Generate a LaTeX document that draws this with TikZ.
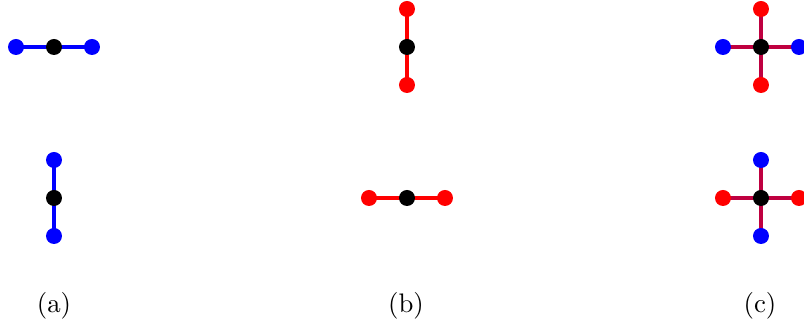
\documentclass[tikz,border=0pt]{standalone}
\usetikzlibrary{backgrounds}
\definecolor{mixc}{RGB}{191,0,64}
\tikzset{
  dot/.style={circle,fill=#1,inner sep=0pt,outer sep=0pt,minimum size=16*0.3731pt},
  bar/.style={line width=1.5pt,draw=#1,shorten <=-2pt,shorten >=-2pt},
  lbl/.style={inner sep=0pt}
}
\begin{document}
\begin{tikzpicture}[x=0.3731pt,y=-0.3731pt]
\useasboundingbox (0,0) rectangle (804,326);
% (a) top
\node[dot=black] (a1c) at (54,47) {};
\node[dot=blue] (a1l) at (16,47) {};
\node[dot=blue] (a1r) at (92,47) {};
% (a) bottom
\node[dot=black] (a2c) at (54,198) {};
\node[dot=blue] (a2t) at (54,160) {};
\node[dot=blue] (a2b) at (54,236) {};
% (b) top
\node[dot=black] (b1c) at (407,47) {};
\node[dot=red] (b1t) at (407,9) {};
\node[dot=red] (b1b) at (407,85) {};
% (b) bottom
\node[dot=black] (b2c) at (407,198) {};
\node[dot=red] (b2l) at (369,198) {};
\node[dot=red] (b2r) at (445,198) {};
% (c) top
\node[dot=black] (c1c) at (761,47) {};
\node[dot=red] (c1t) at (761,9) {};
\node[dot=red] (c1b) at (761,85) {};
\node[dot=blue] (c1l) at (723,47) {};
\node[dot=blue] (c1r) at (799,47) {};
% (c) bottom
\node[dot=black] (c2c) at (761,198) {};
\node[dot=blue] (c2t) at (761,160) {};
\node[dot=blue] (c2b) at (761,236) {};
\node[dot=red] (c2l) at (723,198) {};
\node[dot=red] (c2r) at (799,198) {};
\begin{scope}[on background layer]
\draw[bar=blue] (a1l) -- (a1c);
\draw[bar=blue] (a1c) -- (a1r);
\draw[bar=blue] (a2t) -- (a2c);
\draw[bar=blue] (a2c) -- (a2b);
\draw[bar=red] (b1t) -- (b1c);
\draw[bar=red] (b1c) -- (b1b);
\draw[bar=red] (b2l) -- (b2c);
\draw[bar=red] (b2c) -- (b2r);
\draw[bar=mixc] (c1t) -- (c1c);
\draw[bar=mixc] (c1c) -- (c1b);
\draw[bar=mixc] (c1l) -- (c1c);
\draw[bar=mixc] (c1c) -- (c1r);
\draw[bar=mixc] (c2t) -- (c2c);
\draw[bar=mixc] (c2c) -- (c2b);
\draw[bar=mixc] (c2l) -- (c2c);
\draw[bar=mixc] (c2c) -- (c2r);
\end{scope}
% labels
\node[lbl] (la) at (54,306) {(a)};
\node[lbl] (lb) at (406,306) {(b)};
\node[lbl] (lc) at (760,306) {(c)};
\end{tikzpicture}
\end{document}
